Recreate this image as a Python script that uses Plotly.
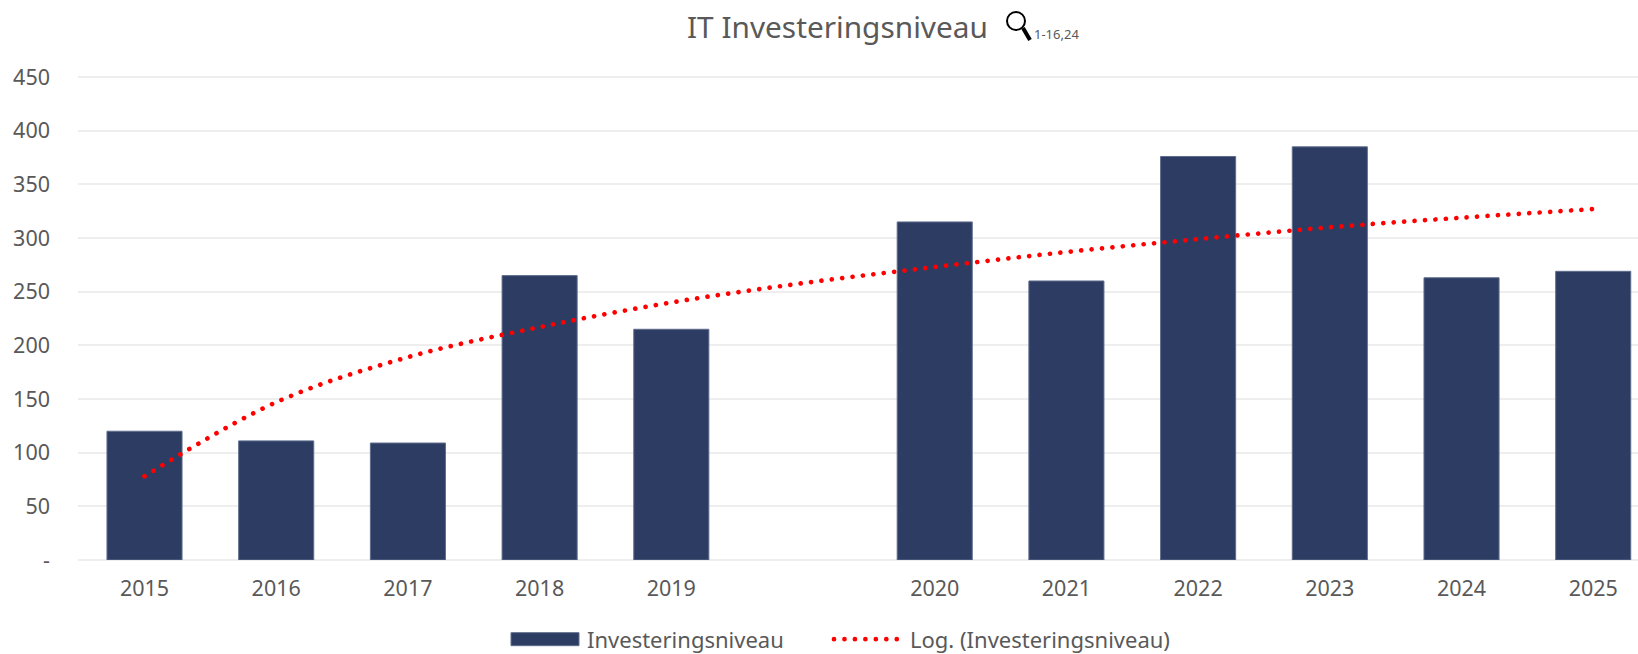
import plotly.graph_objects as go

W, H = 1638, 654
categories = ["2015", "2016", "2017", "2018", "2019", " ", "2020", "2021", "2022", "2023", "2024", "2025"]
investment = [120, 111, 109, 265, 215, None, 315, 260, 376, 385, 263, 269]
log_trend = [78, 147, 189, 217, 240, 258, 273, 287, 299, 310, 319, 327]
y_ticks = [0, 50, 100, 150, 200, 250, 300, 350, 400, 450]
y_labels = ["-", "50", "100", "150", "200", "250", "300", "350", "400", "450"]

NAVY = "#2C3C63"
TEXT = "#595959"
FONT = "Noto Sans"

fig = go.Figure()
fig.add_bar(x=categories, y=investment, name="Investeringsniveau", width=0.57,
            marker=dict(color=NAVY, line=dict(color="#5F6C8C", width=1)))
fig.add_scatter(x=categories, y=log_trend, name="Log. (Investeringsniveau)", mode="lines",
                line=dict(color="#FF0000", width=4.7, dash="0.01px,10.45px", shape="spline"))

L, R, T, B = 78, 1638, 76, 560
def px(x): return (x - L) / (R - L)
def py(y): return (B - y) / (B - T)

fig.add_shape(type="circle", xref="paper", yref="paper", x0=px(1007), x1=px(1025), y0=py(30), y1=py(12),
              line=dict(color="#000000", width=2))
fig.add_shape(type="line", xref="paper", yref="paper", x0=px(1023), x1=px(1030), y0=py(28), y1=py(40),
              line=dict(color="#000000", width=4))

fig.add_annotation(text="IT Investeringsniveau", xref="paper", yref="paper", x=px(837), y=py(27),
                   showarrow=False, xanchor="center", yanchor="middle", font=dict(size=29.8, color=TEXT, family=FONT))
fig.add_annotation(text="1-16,24", xref="paper", yref="paper", x=px(1032), y=py(34),
                   showarrow=False, xanchor="left", yanchor="middle", font=dict(size=13, color=TEXT, family=FONT))

fig.update_layout(
    width=W, height=H, autosize=False,
    margin=dict(l=L, r=W - R, t=T, b=H - B, autoexpand=False),
    paper_bgcolor="#FFFFFF", plot_bgcolor="#FFFFFF",
    font=dict(family=FONT, color=TEXT, size=21),
    bargap=0.43,
    legend=dict(orientation="h", x=px(506), xanchor="left", y=-0.164, yanchor="middle",
                itemwidth=71, entrywidth=237, entrywidthmode="pixels",
                font=dict(size=22, color=TEXT, family=FONT),
                traceorder="normal", bgcolor="rgba(0,0,0,0)"),
    xaxis=dict(type="category", categoryorder="array", categoryarray=categories,
               range=[-0.505, 11.34], showgrid=False, ticks="", showline=False, zeroline=False,
               tickfont=dict(size=21.5, color=TEXT, family=FONT), ticklabelstandoff=13),
    yaxis=dict(range=[0, 451], tickvals=y_ticks, ticktext=y_labels, showgrid=True, gridcolor="#EEEEEE",
               gridwidth=2, zeroline=True, zerolinecolor="#EEEEEE", zerolinewidth=2, showline=False, ticks="",
               tickfont=dict(size=21.5, color=TEXT, family=FONT), ticklabelstandoff=27),
)

post = """
var s = document.createElement('style');
s.textContent = "body{margin:0 !important;} .js-line{stroke-linecap:round !important;} .legend .scrollbox{clip-path:none !important;} path.legendbar, .legendpoints path{d:path('M32.5,6.5H-35.5V-6.5H32.5Z') !important;}";
document.head.appendChild(s);
"""
fig.write_html("out.html", post_script=post, config={"displayModeBar": False})
